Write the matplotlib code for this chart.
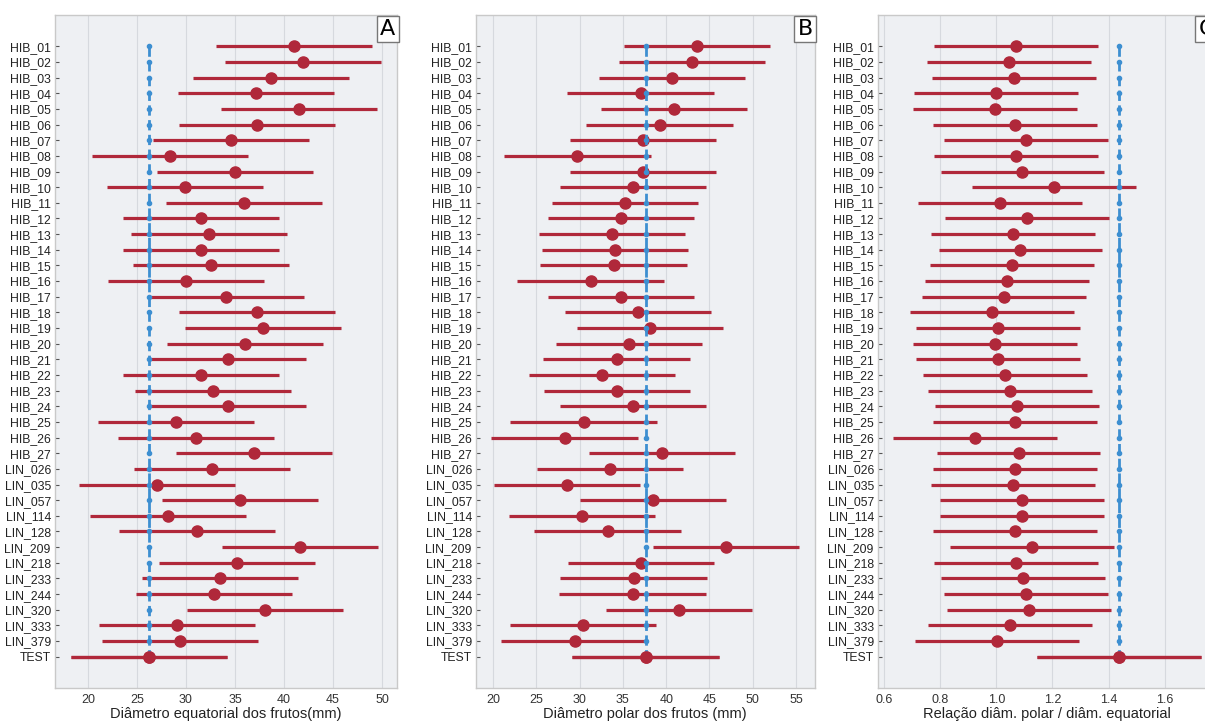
import numpy as np
import matplotlib
matplotlib.use('Agg')
import matplotlib.pyplot as plt

plt.rcParams['font.family'] = ['Liberation Sans', 'DejaVu Sans']

grupos = ['HIB_%02d' % i for i in range(1, 28)] + [
    'LIN_026', 'LIN_035', 'LIN_057', 'LIN_114', 'LIN_128', 'LIN_209',
    'LIN_218', 'LIN_233', 'LIN_244', 'LIN_320', 'LIN_333', 'LIN_379', 'TEST']

# medias
equatorial = [40.98, 41.98, 38.68, 37.13, 41.50, 37.27, 34.59, 28.39, 35.00, 29.87,
              35.89, 31.52, 32.38, 31.52, 32.56, 30.04, 34.07, 37.27, 37.89, 36.00,
              34.24, 31.52, 32.73, 34.24, 28.98, 31.04, 36.92,
              32.69, 27.05, 35.51, 28.22, 31.15, 41.67, 35.24, 33.48, 32.90, 38.09,
              29.08, 29.36, 26.19]
polar = [43.52, 42.98, 40.66, 37.04, 40.86, 39.24, 37.31, 29.75, 37.35, 36.15,
         35.23, 34.80, 33.76, 34.07, 33.92, 31.26, 34.76, 36.73, 38.12, 35.73,
         34.26, 32.61, 34.30, 36.15, 30.45, 28.25, 39.55,
         33.53, 28.52, 38.47, 30.29, 33.22, 46.91, 37.08, 36.23, 36.11, 41.51,
         30.37, 29.41, 37.62]
relacao = [1.071, 1.046, 1.064, 0.998, 0.994, 1.065, 1.105, 1.071, 1.093, 1.207,
           1.013, 1.109, 1.058, 1.086, 1.055, 1.037, 1.027, 0.986, 1.006, 0.994,
           1.006, 1.032, 1.050, 1.073, 1.065, 0.925, 1.079,
           1.068, 1.060, 1.090, 1.092, 1.067, 1.126, 1.070, 1.096, 1.105, 1.117,
           1.050, 1.003, 1.436]
# meia largura dos intervalos (Tukey)
meia_largura = [7.95, 8.45, 0.292]

xlabels = ['Diâmetro equatorial dos frutos(mm)',
           'Diâmetro polar dos frutos (mm)',
           'Relação diâm. polar / diâm. equatorial']
letras = ['A', 'B', 'C']
xticks = [np.arange(20, 51, 5), np.arange(20, 56, 5), np.arange(0.6, 1.61, 0.2)]

W, H = 1205, 722
fig = plt.figure(figsize=(W / 100, H / 100), dpi=100)
caixas = [(55, 397), (476, 814.5), (878, 1216)]
top, bottom = 15, 688

vermelho = '#b0283a'
azul = '#3d8fd1'
fundo = '#eef0f3'

y = np.arange(len(grupos))
for k, dados in enumerate([equatorial, polar, relacao]):
    l, r = caixas[k]
    ax = fig.add_axes([l / W, 1 - bottom / H, (r - l) / W, (bottom - top) / H])
    ax.set_facecolor(fundo)
    dados = np.array(dados)
    hw = meia_largura[k]
    ax.errorbar(dados, y, xerr=hw, fmt='o', color=vermelho, ecolor=vermelho,
                elinewidth=2.3, markersize=8, capsize=0, zorder=3)
    ax.plot([dados[-1]] * len(y), y, linestyle='--', marker='o', markersize=3,
            color=azul, linewidth=2, zorder=4)
    ax.errorbar(dados[-1], y[-1], xerr=hw, fmt='o', color=vermelho,
                ecolor=vermelho, elinewidth=2.3, markersize=8, zorder=5)
    lo = (dados - hw).min()
    hi = (dados + hw).max()
    m = (hi - lo) * 0.05
    ax.set_xlim(lo - m, hi + m)
    ax.set_ylim(len(y) + 1, -2)
    ax.set_yticks(y)
    ax.set_yticklabels(grupos, fontsize=8.8)
    ax.set_xticks(xticks[k])
    if k == 2:
        ax.set_xticklabels(['%.1f' % v for v in xticks[k]])
    ax.tick_params(axis='x', labelsize=9, length=0, pad=4, colors='#333333')
    ax.tick_params(axis='y', direction='in', length=3, width=0.8,
                   color='#555555', pad=3, labelcolor='#222222')
    ax.grid(axis='x', color='#d6d9de', linewidth=0.8)
    ax.set_axisbelow(True)
    for s in ax.spines.values():
        s.set_color('#c9c9c9')
        s.set_linewidth(1)
    ax.set_xlabel(xlabels[k], fontsize=10.5, labelpad=1, color='#222222')
    ax.text(0.995, 0.994, letras[k], transform=ax.transAxes, ha='right', va='top',
            fontsize=16, family='DejaVu Sans',
            bbox=dict(boxstyle='square,pad=0.15', facecolor='white',
                      edgecolor='#777777', linewidth=1))

fig.savefig('out.png', dpi=100)
